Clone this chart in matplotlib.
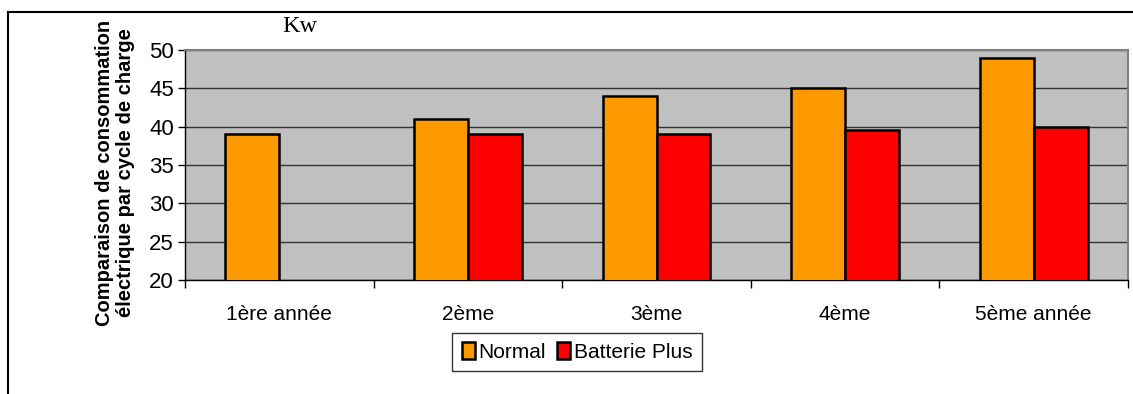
import numpy as np
import matplotlib.pyplot as plt
from matplotlib.lines import Line2D

plt.rcParams['font.family'] = ['Liberation Sans', 'DejaVu Sans']

annees = ['1ère année', '2ème', '3ème', '4ème', '5ème année']
normal = [39, 41, 44, 45, 49]
batterie_plus = [np.nan, 39, 39, 39.5, 40]

fig = plt.figure(figsize=(11.33, 3.94), dpi=100)
ax = fig.add_axes([185/1133, 1 - 280/394, (1128-185)/1133, (280-50)/394])

x = np.arange(len(annees))
w = 0.286
ax.bar(x - w/2, normal, w, bottom=0, color='#FF9900', edgecolor='black', linewidth=1.8,
       label='Normal', zorder=3)
ax.bar(x + w/2, batterie_plus, w, bottom=0, color='#FF0000', edgecolor='black', linewidth=1.8,
       label='Batterie Plus', zorder=3)

ax.set_facecolor('#C0C0C0')
ax.set_xlim(-0.5, len(annees) - 0.5)
ax.set_ylim(20, 50)
ax.set_yticks(range(20, 51, 5))
ax.yaxis.grid(True, color='#333333', linewidth=1, zorder=1)
ax.set_axisbelow(True)

ax.set_xticks(x)
ax.set_xticklabels(annees, fontsize=15)
ax.tick_params(axis='x', length=0, pad=18)
ax.set_xticks(np.arange(-0.5, len(annees)), minor=True)
ax.tick_params(axis='x', which='minor', length=6, width=1, color='black', direction='out')
ax.tick_params(axis='y', labelsize=16, length=5, width=1, direction='out', pad=3)

for s in ['top', 'right']:
    ax.spines[s].set_color('#808080')
    ax.spines[s].set_linewidth(1.5)
for s in ['left', 'bottom']:
    ax.spines[s].set_color('black')
    ax.spines[s].set_linewidth(1)

fig.text(115/1133, 1 - 173/394, 'Comparaison de consommation\nélectrique par cycle de charge',
         fontsize=14.5, fontweight='bold', linespacing=1.15, rotation=90,
         ha='center', va='center')

fig.text(300/1133, 1 - 27/394, 'Kw', fontsize=17.5, family='Liberation Serif',
         ha='center', va='center')

leg = ax.legend(loc='center', bbox_to_anchor=(577/1133, 1 - 352/394),
                bbox_transform=fig.transFigure, ncol=2, fontsize=15,
                frameon=True, fancybox=False, handlelength=0.62, handleheight=0.9,
                handletextpad=0.2, columnspacing=0.5, borderpad=0.45,
                borderaxespad=0)
leg.get_frame().set_edgecolor('black')
leg.get_frame().set_linewidth(1)

# cadre autour du graphique
fig.add_artist(Line2D([8/1133, 8/1133], [0, 1 - 12/394], color='black', linewidth=1.5))
fig.add_artist(Line2D([8/1133, 1], [1 - 12/394, 1 - 12/394], color='black', linewidth=1.5))

fig.savefig('out.png', dpi=100)
